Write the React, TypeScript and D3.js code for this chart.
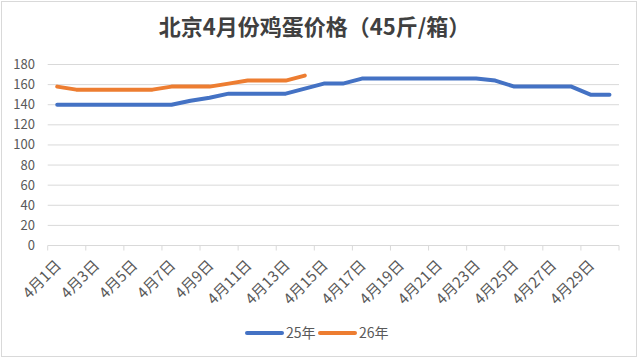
import React from "react";
import * as d3 from "d3";

const days: string[] = Array.from({ length: 30 }, (_, i) => `4月${i + 1}日`);
const series25: number[] = [140, 140, 140, 140, 140, 140, 140, 144, 147, 151, 151, 151, 151, 156, 161, 161, 166, 166, 166, 166, 166, 166, 166, 164, 158, 158, 158, 158, 150, 150];
const series26: number[] = [158, 155, 155, 155, 155, 155, 158, 158, 158, 161, 164, 164, 164, 169];
const yTicks: number[] = [0, 20, 40, 60, 80, 100, 120, 140, 160, 180];
const seriesNames: string[] = ["25年", "26年"];
const colors: string[] = ["#4472C4", "#ED7D31"];
const title = "北京4月份鸡蛋价格（45斤/箱）";

const W = 638, H = 359;
const left = 47.7, right = 619, top = 64.5, bottom = 245.5;
const FONT = "'Noto Sans CJK SC', 'Noto Sans', sans-serif";

export default function App() {
  const x = d3.scaleBand<string>().domain(days).range([left, right]).padding(0);
  const y = d3.scaleLinear().domain([0, 180]).range([bottom, top]);
  const cx = (i: number) => (x(days[i]) as number) + x.bandwidth() / 2;
  const line = d3.line<number>().x((_, i) => cx(i)).y((d) => y(d));
  const data = [series25, series26];
  const tickXs = d3.range(0, days.length + 1, 2).map((i) => left + i * x.bandwidth());
  const labelIdx = d3.range(0, days.length, 2);

  return (
    <svg width={W} height={H} style={{ position: "absolute", left: 0, top: 0, background: "#fff" }} fontFamily={FONT}>
      <rect x={1.5} y={1.5} width={635} height={355} fill="#fff" stroke="#d9d9d9" strokeWidth={1} />
      <text x={314.5} y={35} textAnchor="middle" fontSize={22} fontWeight="bold" fill="#404040">{title}</text>
      {yTicks.map((t) => (
        <g key={t}>
          {t > 0 && <line x1={left} x2={right} y1={y(t)} y2={y(t)} stroke="#d9d9d9" strokeWidth={1} />}
          <text x={35} y={y(t)} dy="0.35em" textAnchor="end" fontSize={13} fill="#595959">{t}</text>
        </g>
      ))}
      <line x1={left} x2={right} y1={bottom} y2={bottom} stroke="#d9d9d9" strokeWidth={1} />
      {tickXs.map((tx, i) => (
        <line key={i} x1={tx} x2={tx} y1={bottom} y2={bottom + 5} stroke="#d9d9d9" strokeWidth={1} />
      ))}
      {labelIdx.map((i) => (
        <text key={i} transform={`translate(${cx(i) + 5},${bottom + 21}) rotate(-45)`} textAnchor="end" fontSize={15} fill="#595959">{days[i]}</text>
      ))}
      {data.map((s, k) => (
        <path key={k} d={line(s) as string} fill="none" stroke={colors[k]} strokeWidth={4} strokeLinejoin="round" strokeLinecap="round" />
      ))}
      {seriesNames.map((n, k) => (
        <g key={n} transform={`translate(${247 + k * 73},333)`}>
          <line x1={0} x2={35} y1={0} y2={0} stroke={colors[k]} strokeWidth={4} strokeLinecap="round" />
          <text x={39} y={0} dy="0.35em" fontSize={14} fill="#595959">{n}</text>
        </g>
      ))}
    </svg>
  );
}
